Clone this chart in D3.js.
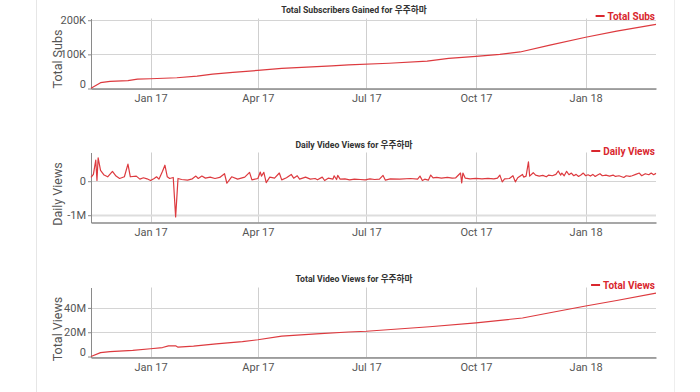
<!DOCTYPE html>
<html><head><meta charset="utf-8">
<script src="https://cdn.jsdelivr.net/npm/d3@7"></script>
<style>
html,body{margin:0;padding:0;background:#fff;}
svg{display:block;font-family:Roboto,"Noto Sans CJK KR",sans-serif;}
</style></head>
<body><svg id="c" width="700" height="392"></svg>
<script>
// ---------- DATA ----------
const startDate = "2016-11-12";
const endDate = "2018-03-01";
const xTickDates = ["2017-01-01","2017-04-01","2017-07-01","2017-10-01","2018-01-01"];
const xTickLabels = ["Jan 17","Apr 17","Jul 17","Oct 17","Jan 18"];

const channelName = "우주하마";

// Total subscribers
const subsDates = ["2016-11-12","2016-11-20","2016-11-28","2016-12-13","2016-12-21","2017-01-01","2017-01-23","2017-02-09","2017-02-22","2017-03-11","2017-04-01","2017-04-21","2017-06-02","2017-06-16","2017-07-20","2017-08-21","2017-09-08","2017-10-01","2017-10-21","2017-11-07","2017-12-02","2018-01-01","2018-01-27","2018-03-01"];
const subsValues = [500,17000,21000,23000,27700,28500,31500,36000,42000,47000,53000,59000,66000,69000,74000,80000,88000,94000,100000,107000,127000,150000,168000,188000];
const subsTicks = [0,100000,200000];
const subsTickLabels = ["0","100K","200K"];

// Daily views (day offset from startDate, value in thousands)
const dailyDay = [0,2,4,5,6,8,11,14,18,21,24,28,31,33,38,41,44,47,50,53,55,57,60,62,64,66,69,71,73,76,81,85,88,90,93,
96,100,104,108,112,114,118,123,129,133,135,140,142,143,145,147,150,154,158,160,164,168,170,173,175,180,184,
188,190,194,196,199,203,204,206,207,209,213,217,221,226,230,234,238,242,245,247,251,259,268,274,276,278,
280,283,285,287,290,294,299,303,306,310,311,312,314,318,323,328,333,338,341,343,345,347,351,354,356,358,362,363,365,367,368,371,
373,376,379,382,384,387,390,392,394,395,397,399,401,403,405,407,409,411,413,415,417,419,421,423,425,427,429,432,435,438,440,443,447,449,452,454,457,460,462,465,468,470,472,474];
const dailyK = [110,200,620,20,685,320,180,130,290,150,80,130,500,130,150,60,100,70,20,80,130,60,290,470,130,80,110,-1050,80,50,30,70,150,80,150,
90,120,80,110,220,-60,130,60,120,260,40,80,270,150,260,-40,120,90,240,40,100,200,90,160,60,120,60,
80,40,120,20,90,60,160,50,170,60,70,40,60,50,40,70,50,60,170,30,70,60,80,60,150,20,
60,30,180,100,110,90,110,90,100,240,-50,240,90,70,80,70,80,70,90,180,-20,70,80,160,-20,100,200,120,150,570,150,250,
180,150,170,130,180,160,200,300,180,240,160,290,190,240,160,200,140,180,240,160,190,150,200,140,180,220,160,180,150,180,140,160,110,160,140,160,200,240,160,220,190,240,190,230];
const dailyTicks = [-1000000,0];
const dailyTickLabels = ["-1M","0"];

// Total views (millions)
const viewsDates = ["2016-11-12","2016-11-20","2016-11-28","2016-12-17","2017-01-01","2017-01-11","2017-01-16","2017-01-22","2017-01-24","2017-02-06","2017-02-25","2017-03-19","2017-04-01","2017-04-21","2017-05-20","2017-06-16","2017-07-01","2017-08-23","2017-10-01","2017-11-09","2017-12-02","2018-01-01","2018-01-27","2018-03-01"];
const viewsM = [0,3.2,4.0,5.0,6.4,7.4,8.8,8.8,7.7,8.5,10.4,12.2,13.8,16.8,18.6,20.2,20.8,24.5,27.7,31.7,36.0,41.6,46.1,52.2];
const viewsTicks = [0,20000000,40000000];
const viewsTickLabels = ["0","20M","40M"];

// ---------- DRAW ----------
const parse = d3.timeParse("%Y-%m-%d");
const svg = d3.select("#c");
const RED = "#d9272e";
const LINE = "#dd3a3f";

svg.append("line").attr("x1",36.5).attr("x2",36.5).attr("y1",0).attr("y2",392).attr("stroke","#e6e6e6");
svg.append("line").attr("x1",674.5).attr("x2",674.5).attr("y1",0).attr("y2",392).attr("stroke","#eeeeee");

const x = d3.scaleTime().domain([parse(startDate), parse(endDate)]).range([91, 656]);

function panel(cfg){
  const g = svg.append("g");
  const y = d3.scaleLinear().domain(cfg.yDomain).range([cfg.bottom, cfg.top]);
  // vertical grid
  const xt = xTickDates.map(parse);
  g.selectAll(".vg").data(xt).enter().append("line")
    .attr("x1",d=>Math.round(x(d))+0.5).attr("x2",d=>Math.round(x(d))+0.5)
    .attr("y1",cfg.top).attr("y2",cfg.bottom).attr("stroke","#cfcfcf").attr("stroke-width",1);
  // horizontal grid
  g.selectAll(".hg").data(cfg.yTicks).enter().append("line")
    .attr("x1",91).attr("x2",656)
    .attr("y1",d=>Math.round(y(d))+0.5).attr("y2",d=>Math.round(y(d))+0.5)
    .attr("stroke",d=>d<0?"#dddddd":"#d4d4d4").attr("stroke-width",d=>d<0?2:1);
  // x axis
  const xAxis = d3.axisBottom(x).tickValues(xt).tickFormat((d,i)=>xTickLabels[i]).tickSize(0).tickPadding(6);
  const xa = g.append("g").attr("transform",`translate(0,${cfg.bottom})`).call(xAxis);
  xa.select(".domain").attr("stroke","#8a8a8a").attr("stroke-width",1.5);
  xa.selectAll("text").attr("font-size","11px").attr("fill","#555").attr("font-family","Roboto");
  // y axis
  const yAxis = d3.axisLeft(y).tickValues(cfg.yTicks).tickFormat((d,i)=>cfg.yTickLabels[i]).tickSize(3).tickPadding(2).tickSizeOuter(0);
  const ya = g.append("g").attr("transform","translate(91,0)").call(yAxis);
  ya.select(".domain").attr("stroke","#8a8a8a").attr("stroke-width",1);
  ya.selectAll(".tick line").attr("stroke","#8a8a8a");
  ya.selectAll(".tick").each(function(d){
    const yy = y(d);
    if (yy > cfg.bottom - 4) d3.select(this).select("text").attr("y", -4.5);
  });
  ya.selectAll("text").attr("font-size","11px").attr("fill","#555").attr("font-family","Roboto");
  // line
  const line = d3.line().x(d=>x(d[0])).y(d=>y(d[1]));
  g.append("path").datum(cfg.data).attr("d",line).attr("fill","none")
    .attr("stroke",LINE).attr("stroke-width",1.2).attr("stroke-linejoin","round");
  // title
  g.append("text").attr("x",354).attr("y",cfg.titleY).attr("text-anchor","middle")
    .attr("font-size","8.7px").attr("font-weight","bold").attr("fill","#333").text(cfg.title);
  // legend
  const lg = g.append("g");
  const lt = lg.append("text").attr("x",655).attr("y",cfg.legendY+3.5).attr("text-anchor","end")
    .attr("font-size","10px").attr("font-weight","bold").attr("fill",RED).text(cfg.legend);
  const w = lt.node().getComputedTextLength();
  lg.append("line").attr("x1",655-w-12).attr("x2",655-w-3).attr("y1",cfg.legendY).attr("y2",cfg.legendY)
    .attr("stroke",RED).attr("stroke-width",2);
  // y title
  g.append("text").attr("transform",`translate(62,${cfg.yTitleY}) rotate(-90)`).attr("text-anchor","middle")
    .attr("font-size","12.5px").attr("fill","#555").text(cfg.yTitle);
}

panel({
  top:18.5, bottom:88.5, yDomain:[0,205000],
  yTicks:subsTicks, yTickLabels:subsTickLabels,
  data: subsDates.map((d,i)=>[parse(d), subsValues[i]]),
  title:"Total Subscribers Gained for " + channelName, titleY:13,
  legend:"Total Subs", legendY:16, yTitle:"Total Subs", yTitleY:59
});

const d0 = parse(startDate);
panel({
  top:152.5, bottom:222.5, yDomain:[-1215000,844000],
  yTicks:dailyTicks, yTickLabels:dailyTickLabels,
  data: dailyDay.map((d,i)=>[d3.timeDay.offset(d0,d), dailyK[i]*1000]),
  title:"Daily Video Views for " + channelName, titleY:148,
  legend:"Daily Views", legendY:151, yTitle:"Daily Views", yTitleY:194
});

panel({
  top:287.5, bottom:357.5, yDomain:[-800000,56800000],
  yTicks:viewsTicks, yTickLabels:viewsTickLabels,
  data: viewsDates.map((d,i)=>[parse(d), viewsM[i]*1000000]),
  title:"Total Video Views for " + channelName, titleY:282,
  legend:"Total Views", legendY:285, yTitle:"Total Views", yTitleY:329
});
</script></body></html>
